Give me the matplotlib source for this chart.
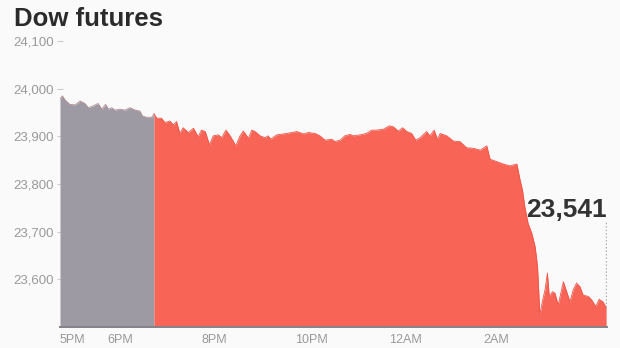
import numpy as np
import matplotlib
matplotlib.use("Agg")
import matplotlib.pyplot as plt

plt.rcParams["font.family"] = ["Liberation Sans", "DejaVu Sans"]

# hours after 5PM, futures level
hours = [0.00, 0.05, 0.11, 0.21, 0.32, 0.43, 0.53, 0.60, 0.71, 0.81, 0.89, 0.97,
         1.03, 1.10, 1.17, 1.28, 1.38, 1.49, 1.60, 1.70, 1.75, 1.84, 1.95, 2.00,
         2.06, 2.16, 2.23, 2.34, 2.41, 2.48, 2.55, 2.62, 2.73, 2.84, 2.94, 3.01,
         3.09, 3.18, 3.26, 3.37, 3.44, 3.53, 3.62, 3.69, 3.74, 3.83, 3.90, 4.01,
         4.08, 4.15, 4.26, 4.36, 4.43, 4.48, 4.61, 4.82, 5.04, 5.18, 5.28, 5.43,
         5.53, 5.64, 5.78, 5.85, 5.96, 6.06, 6.17, 6.24, 6.38, 6.52, 6.63, 6.74,
         6.88, 7.01, 7.09, 7.20, 7.29, 7.38, 7.48, 7.57, 7.66, 7.80, 7.87, 7.96,
         8.03, 8.09, 8.23, 8.37, 8.51, 8.65, 8.79, 8.94, 9.08, 9.15, 9.29, 9.43,
         9.57, 9.72, 9.79, 9.84, 9.89, 9.96, 10.04, 10.11, 10.16, 10.21, 10.27,
         10.32, 10.37, 10.41, 10.48, 10.53, 10.60, 10.71, 10.78, 10.85, 10.92,
         10.99, 11.06, 11.13, 11.24, 11.31, 11.40, 11.47, 11.55, 11.62]
prices = [23978, 23985, 23976, 23967, 23966, 23974, 23969, 23960, 23964, 23969, 23957, 23967,
          23957, 23960, 23955, 23957, 23955, 23960, 23955, 23953, 23943, 23940, 23940, 23947,
          23938, 23938, 23929, 23932, 23924, 23931, 23906, 23918, 23908, 23917, 23899, 23913,
          23910, 23882, 23901, 23903, 23897, 23913, 23901, 23889, 23880, 23901, 23911, 23896,
          23913, 23910, 23901, 23897, 23901, 23894, 23903, 23906, 23910, 23905, 23908, 23906,
          23901, 23892, 23894, 23889, 23892, 23901, 23904, 23901, 23903, 23906, 23913, 23913,
          23915, 23922, 23920, 23911, 23918, 23910, 23906, 23892, 23897, 23910, 23901, 23913,
          23894, 23906, 23901, 23890, 23889, 23876, 23875, 23871, 23880, 23852, 23847, 23842,
          23838, 23842, 23808, 23787, 23752, 23717, 23696, 23668, 23627, 23525, 23557,
          23578, 23613, 23564, 23574, 23571, 23546, 23595, 23574, 23553, 23578,
          23592, 23585, 23567, 23564, 23557, 23543, 23558, 23553, 23541]

open_hour = 2.0  # gray before, red after
tick_hours = [0, 1, 3, 5, 7, 9]
tick_labels = ["5PM", "6PM", "8PM", "10PM", "12AM", "2AM"]
y_ticks = [23600, 23700, 23800, 23900, 24000, 24100]
last_label = "23,541"

hours = np.array(hours)
prices = np.array(prices)
ymin = 23500

bg = "#fafafa"
fig = plt.figure(figsize=(6.2, 3.48), dpi=100, facecolor=bg)
ax = fig.add_axes([60 / 620, 1 - 327 / 348, 547 / 620, 286 / 348], facecolor=bg)

pre = hours <= open_hour
post = hours >= open_hour
ax.fill_between(hours[pre], ymin, prices[pre], color="#9e9aa3", lw=0, zorder=3)
ax.plot(hours[pre], prices[pre], color="#b08a90", lw=0.6, zorder=4)
ax.fill_between(hours[post], ymin, prices[post], color="#f86556", lw=0, zorder=3)
ax.plot(hours[post], prices[post], color="#f05244", lw=0.6, zorder=4)

ax.set_xlim(0, 547 / 47)
ax.set_ylim(ymin, 24100)

# last value marker
ax.vlines(hours[-1], prices[-1], 23720, colors="#aaaaaa", linestyles=(0, (1, 1.5)), lw=1, zorder=5)
ax.text(hours[-1] + 0.02, 23731, last_label, ha="right", va="baseline",
        fontsize=19, fontweight="bold", color="#333333", zorder=6)

for s in ["top", "right", "left"]:
    ax.spines[s].set_visible(False)
ax.spines["bottom"].set_color("#86828a")
ax.spines["bottom"].set_linewidth(1.4)
ax.spines["bottom"].set_zorder(5)

ax.set_xticks(tick_hours)
ax.set_xticklabels(tick_labels, ha="left")
ax.tick_params(axis="x", length=0, pad=5, labelsize=9, labelcolor="#999999")
ax.set_yticks(y_ticks)
ax.set_yticklabels([f"{v:,}" for v in y_ticks])
ax.tick_params(axis="y", direction="inout", length=5, width=0.8, color="#cccccc",
               pad=2, labelsize=9.5, labelcolor="#999999")

fig.text(14 / 620, 1 - 26 / 348, "Dow futures", ha="left", va="baseline",
         fontsize=18.5, fontweight="bold", color="#2b2b2b")

fig.savefig("out.png", dpi=100, facecolor=bg)
